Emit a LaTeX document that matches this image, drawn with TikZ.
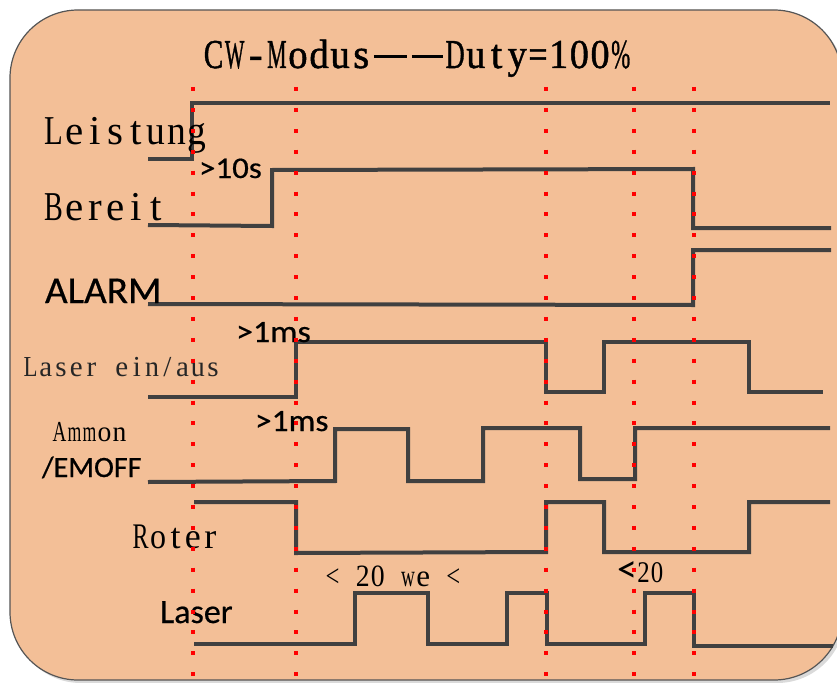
\documentclass[tikz,border=0pt]{standalone}
\usepackage{fontspec}
\usepackage{graphicx}
\setmainfont{Liberation Serif}
\newfontfamily\calfont[FakeBold=0.5]{Carlito}
\newfontfamily\ltfont{Carlito}
\newfontfamily\titlefont[FakeBold=1.2]{Liberation Serif}
\definecolor{bgpeach}{HTML}{F3BF97}
\definecolor{sigcol}{HTML}{404040}
\definecolor{framecol}{HTML}{555555}
\definecolor{shadowcol}{HTML}{DADADA}
\newdimen\cellw
\newdimen\cellht
\newcommand\cellc[1]{\sbox0{#1}\ifdim\wd0>0.92\cellw \cellht=\ht0 \makebox[\cellw]{\resizebox{0.92\cellw}{\cellht}{#1}}\else\makebox[\cellw]{#1}\fi}
\def\monoloop#1{\ifx\relax#1\else\cellc{#1}\expandafter\monoloop\fi}
\newcommand\mono[2]{\cellw=#1\relax\monoloop#2\relax}
\newcommand\fs[1]{\fontsize{#1}{#1}\selectfont}
\begin{document}
\begin{tikzpicture}[x=1pt,y=-1pt,
  sig/.style={draw=sigcol, line width=4pt},
  reddot/.style={draw=red, line width=4pt, dash pattern=on 4pt off 16.9pt},
  lbl/.style={anchor=base west, inner sep=0pt, outer sep=0pt}]
\useasboundingbox (0,0) rectangle (837,682);
\clip (0,0) rectangle (837,682);
\fill[white] (0,0) rectangle (837,682);
% frame
\fill[shadowcol, rounded corners=68pt] (13,13) rectangle (845,683);
\draw[framecol, fill=bgpeach, line width=1.2pt, rounded corners=68pt] (10,10) rectangle (842,680);
% signals
\draw[sig] (148,159) -- (192,159) -- (192,103) -- (830,103);
\draw[sig] (148,225) -- (272,226) -- (272,170) -- (693,169) -- (693,228) -- (831,228);
\draw[sig] (148,304) -- (693,305) -- (693,250) -- (831,250);
\draw[sig] (148,397) -- (296,397) -- (296,342) -- (546,342) -- (546,392) -- (604,392) -- (604,342) -- (749,342) -- (749,392) -- (823,392);
\draw[sig] (148,482) -- (335,481) -- (335,429) -- (408,429) -- (408,481) -- (483,481) -- (483,428) -- (580,428) -- (580,479) -- (635,479) -- (635,428) -- (830,428);
\draw[sig] (194,502) -- (296,502) -- (296,553) -- (546,552) -- (546,502) -- (604,502) -- (604,552) -- (749,552) -- (749,502) -- (830,502);
\draw[sig] (194,644) -- (355,644) -- (355,593) -- (428,593) -- (428,644) -- (507,644) -- (507,593) -- (547,593) -- (547,644) -- (645,644) -- (645,593) -- (694,593) -- (694,646) -- (833,646);
% labels
\node[lbl] (title) at (203,68) {\titlefont\fs{41}\mono{21.1pt}{CW-Modus}\hspace{2pt}\rule[9.7pt]{33pt}{2.8pt}\hspace{5pt}\rule[9.7pt]{31pt}{2.8pt}\hspace{2pt}\mono{20.7pt}{Duty=100\%}};
\node[lbl] (leistung) at (44,144) {\fs{41}\mono{20.4pt}{Leistung}};
\node[lbl] (bereit) at (44,220) {\fs{41}\mono{20.4pt}{Bereit}};
\node[lbl] (alarm) at (45,303) {\scalebox{1.03}[1]{\calfont\fs{38}ALARM}};
\node[lbl] (t10s) at (199,178) {\scalebox{1.1}[1]{\calfont\fs{30}>10s}};
\node[lbl, text=black!85] (laserein) at (23,376) {\fs{29}\mono{15.2pt}{Laser~ein/aus}};
\node[lbl] (t1msa) at (236,342) {\scalebox{1.1}[1]{\calfont\fs{31}>1ms}};
\node[lbl] (ammon) at (52,441) {\fs{29}\mono{15pt}{Ammon}};
\node[lbl] (emoff) at (42,477) {\scalebox{1.02}[1]{\calfont\fs{29.5}/EMOFF}};
\node[lbl] (t1msb) at (255,431) {\scalebox{1.08}[1]{\calfont\fs{31}>1ms}};
\node[lbl] (roter) at (132,548) {\fs{36}\mono{17.4pt}{Roter}};
\node[lbl] (lt20we) at (325,586) {\fs{31}\mono{15.1pt}{<~20~we~<}};
\node[lbl] (lt20) at (617,582) {{\ltfont\fs{40}<}\fs{30}\mono{13.5pt}{20}};
\node[lbl] (laser) at (160,623) {\calfont\fs{34}Laser};
% red dotted markers
\foreach \xx in {193,296,546,634,694}
  \draw[reddot] (\xx,87) -- (\xx,678);
\end{tikzpicture}
\end{document}
